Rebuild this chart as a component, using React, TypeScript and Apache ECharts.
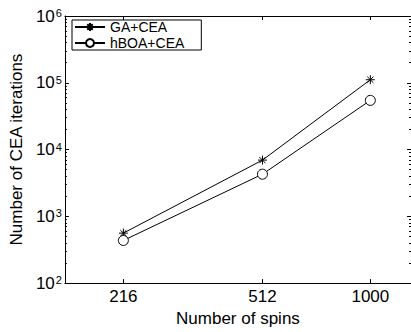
import React, { useEffect, useRef } from "react";
import * as echarts from "echarts";

const spins = [216, 512, 1000];
const gaCea = [560, 6950, 111000];
const hboaCea = [435, 4275, 54500];
const seriesNames = ["GA+CEA", "hBOA+CEA"];
const yExponents = [2, 3, 4, 5, 6];
const minorMultipliers = [2, 3, 4, 5, 6, 7, 8, 9];

const FONT = "Liberation Sans, Arial, Helvetica, sans-serif";
const STAR = "path://M5,0L5,10M0,5L10,5M1.6,1.6L8.4,8.4M1.6,8.4L8.4,1.6";

export default function App() {
  const ref = useRef<HTMLDivElement>(null);
  useEffect(() => {
    if (!ref.current) return;
    const chart = echarts.init(ref.current, undefined, { renderer: "svg" });
    const lg = (v: number) => Math.log10(v);
    const xTicks = spins.map(lg);
    const yMinor: number[] = [];
    for (let k = yExponents[0]; k < yExponents[yExponents.length - 1]; k++) {
      for (const m of minorMultipliers) yMinor.push(lg(m * Math.pow(10, k)));
    }
    const xMin = lg(150.3);
    const xMax = lg(1287);
    const yMin = yExponents[0];
    const yMax = yExponents[yExponents.length - 1];
    const black = "#000";
    const baseY = {
      type: "value" as const,
      min: yMin,
      max: yMax,
      interval: 1,
      splitLine: { show: false },
    };
    chart.setOption({
      animation: false,
      textStyle: { fontFamily: FONT, color: black },
      grid: { left: 63, top: 16, width: 349, height: 273, containLabel: false },
      legend: {
        left: 72,
        top: 20,
        orient: "vertical",
        data: seriesNames,
        borderColor: black,
        borderWidth: 1,
        padding: [0, 17, 0, 2],
        itemGap: 2,
        itemWidth: 30,
        itemHeight: 10,
        textStyle: { fontSize: 14, color: black, fontFamily: FONT, lineHeight: 14 },
      },
      xAxis: [
        {
          type: "value",
          min: xMin,
          max: xMax,
          position: "bottom",
          name: "Number of spins",
          nameLocation: "middle",
          nameGap: 21,
          nameTextStyle: { fontSize: 17, color: black, fontFamily: FONT },
          axisLine: { show: true, lineStyle: { color: black, width: 1 } },
          axisTick: { inside: true, length: 4, customValues: xTicks, lineStyle: { color: black } },
          axisLabel: {
            customValues: xTicks,
            margin: 5,
            fontSize: 17,
            color: black,
            fontFamily: FONT,
            formatter: (v: number) => String(Math.round(Math.pow(10, v))),
          },
          splitLine: { show: false },
        },
        {
          type: "value",
          min: xMin,
          max: xMax,
          position: "top",
          axisLine: { show: true, lineStyle: { color: black, width: 1 } },
          axisTick: { inside: true, length: 4, customValues: xTicks, lineStyle: { color: black } },
          axisLabel: { show: false },
          splitLine: { show: false },
        },
      ],
      yAxis: [
        {
          ...baseY,
          position: "left",
          name: "Number of CEA iterations",
          nameLocation: "middle",
          nameGap: 37,
          nameTextStyle: { fontSize: 17, color: black, fontFamily: FONT },
          axisLine: { show: true, lineStyle: { color: black, width: 1 } },
          axisTick: { inside: true, length: 4, lineStyle: { color: black } },
          axisLabel: {
            margin: 3,
            color: black,
            fontFamily: FONT,
            formatter: (v: number) => `{b|10}{s|${v}}`,
            rich: {
              b: { fontSize: 17, lineHeight: 17, verticalAlign: "middle", color: black, fontFamily: FONT },
              s: { fontSize: 11, lineHeight: 11, verticalAlign: "top", color: black, fontFamily: FONT, padding: [0, 0, 12, 1] },
            },
          },
        },
        {
          ...baseY,
          position: "left",
          axisLine: { show: false },
          axisTick: { inside: true, length: 2, customValues: yMinor, lineStyle: { color: black } },
          axisLabel: { show: false },
        },
        {
          ...baseY,
          position: "right",
          axisLine: { show: true, lineStyle: { color: black, width: 1 } },
          axisTick: { inside: true, length: 4, lineStyle: { color: black } },
          axisLabel: { show: false },
        },
        {
          ...baseY,
          position: "right",
          axisLine: { show: false },
          axisTick: { inside: true, length: 2, customValues: yMinor, lineStyle: { color: black } },
          axisLabel: { show: false },
        },
      ],
      series: [
        {
          name: seriesNames[0],
          type: "line",
          xAxisIndex: 0,
          yAxisIndex: 0,
          data: spins.map((s, i) => [lg(s), lg(gaCea[i])]),
          symbol: STAR,
          symbolSize: 9,
          lineStyle: { color: black, width: 1 },
          itemStyle: { color: black, borderColor: black, borderWidth: 1 },
        },
        {
          name: seriesNames[1],
          type: "line",
          xAxisIndex: 0,
          yAxisIndex: 0,
          data: spins.map((s, i) => [lg(s), lg(hboaCea[i])]),
          symbol: "circle",
          symbolSize: 10,
          lineStyle: { color: black, width: 1 },
          itemStyle: { color: "#fff", borderColor: black, borderWidth: 1 },
        },
      ],
    });
    return () => chart.dispose();
  }, []);
  return <div ref={ref} style={{ width: 411, height: 332, position: "absolute", left: 0, top: 0, background: "#fff" }} />;
}
